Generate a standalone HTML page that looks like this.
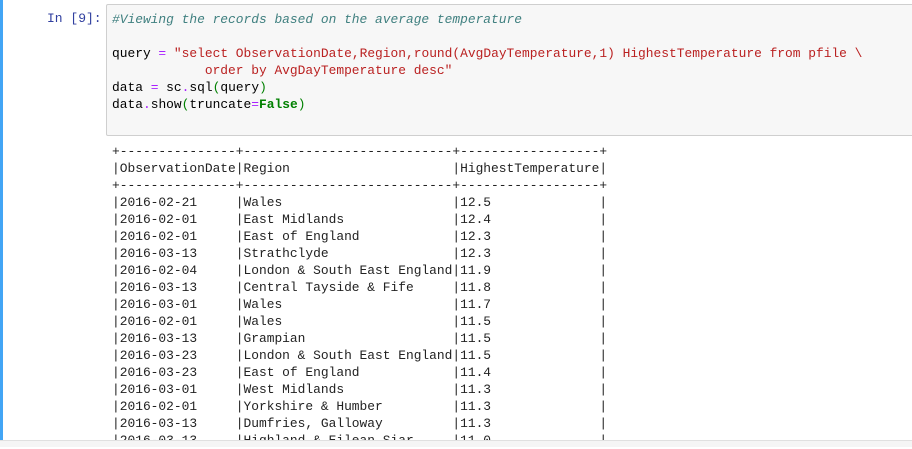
<!DOCTYPE html>
<html><head><meta charset="utf-8"><style>
html,body{margin:0;padding:0;width:912px;height:446px;overflow:hidden;background:#fff;}
.bar{position:absolute;left:0;top:0;width:3px;height:446px;background:#42A5F5;}
.prompt{position:absolute;left:47px;top:10px;font:13px/17px "Liberation Mono",monospace;color:#303F9F;}
.cell{position:absolute;left:106px;top:4px;width:820px;height:130px;background:#f7f7f7;border:1px solid #cfcfcf;border-radius:2px;}
pre{margin:0;font:12.9px/17px "Liberation Mono",monospace;color:#000;}
.code{position:absolute;left:112px;top:10.5px;}
.out{position:absolute;left:112px;top:142.5px;color:#222;}
.c{color:#408080;font-style:italic}.s{color:#BA2121}.o{color:#AA22FF}.k{color:#008000;font-weight:bold}.p{color:#008000}
.bottom{position:absolute;left:0;top:440px;width:912px;height:6px;background:#f5f5f5;border-top:1px solid #e0e0e0;}
</style></head><body>
<div class="bar"></div>
<div class="prompt">In [9]:</div>
<div class="cell"></div>
<pre class="code"><span class="c">#Viewing the records based on the average temperature</span>

query <span class="o">=</span> <span class="s">"select ObservationDate,Region,round(AvgDayTemperature,1) HighestTemperature from pfile \
            order by AvgDayTemperature desc"</span>
data <span class="o">=</span> sc<span class="o">.</span>sql<span class="p">(</span>query<span class="p">)</span>
data<span class="o">.</span>show<span class="p">(</span>truncate<span class="o">=</span><span class="k">False</span><span class="p">)</span></pre>
<pre class="out">+---------------+---------------------------+------------------+
|ObservationDate|Region                     |HighestTemperature|
+---------------+---------------------------+------------------+
|2016-02-21     |Wales                      |12.5              |
|2016-02-01     |East Midlands              |12.4              |
|2016-02-01     |East of England            |12.3              |
|2016-03-13     |Strathclyde                |12.3              |
|2016-02-04     |London &amp; South East England|11.9              |
|2016-03-13     |Central Tayside &amp; Fife     |11.8              |
|2016-03-01     |Wales                      |11.7              |
|2016-02-01     |Wales                      |11.5              |
|2016-03-13     |Grampian                   |11.5              |
|2016-03-23     |London &amp; South East England|11.5              |
|2016-03-23     |East of England            |11.4              |
|2016-03-01     |West Midlands              |11.3              |
|2016-02-01     |Yorkshire &amp; Humber         |11.3              |
|2016-03-13     |Dumfries, Galloway         |11.3              |
|2016-03-13     |Highland &amp; Eilean Siar     |11.0              |</pre>
<div class="bottom"></div>
</body></html>
